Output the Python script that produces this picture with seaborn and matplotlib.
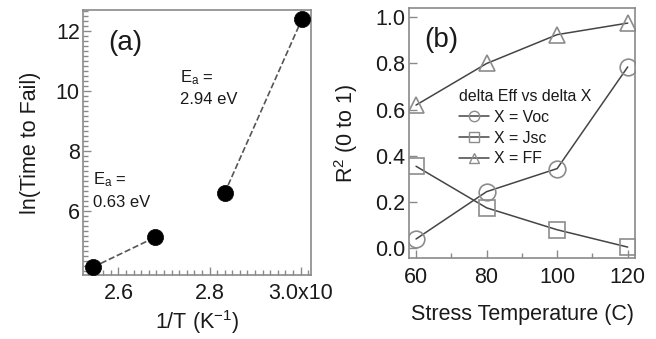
import matplotlib
matplotlib.use("Agg")
import matplotlib.pyplot as plt
import seaborn as sns
import pandas as pd
from matplotlib.lines import Line2D
from matplotlib.ticker import AutoMinorLocator, FixedLocator, FixedFormatter

# ---------------- data ----------------
inv_T = [2.544, 2.681, 2.833, 3.003]          # 1/T (x1e-3 K^-1)
ln_ttf = [4.12, 5.12, 6.59, 12.4]             # ln(Time to Fail)
xticks_a = [2.6, 2.8, 3.0]
xticklabels_a = ["2.6", "2.8", "3.0x10"]
yticks_a = [6, 8, 10, 12]
ea_low = "0.63 eV"
ea_high = "2.94 eV"

temps = [60, 80, 100, 120]
r2_voc = [0.04, 0.245, 0.345, 0.785]
r2_jsc = [0.355, 0.175, 0.08, 0.005]
r2_ff = [0.62, 0.80, 0.925, 0.975]
series_labels = ["X = Voc", "X = Jsc", "X = FF"]
legend_title = "delta Eff vs delta X"
xticks_b = [60, 80, 100, 120]
yticks_b = [0.0, 0.2, 0.4, 0.6, 0.8, 1.0]

# ---------------- style ----------------
sns.set_theme(style="white")
plt.rcParams["font.family"] = ["Liberation Sans", "DejaVu Sans"]
plt.rcParams["mathtext.fontset"] = "custom"
plt.rcParams["mathtext.rm"] = "Liberation Sans"
plt.rcParams["mathtext.it"] = "Liberation Sans:italic"
plt.rcParams["mathtext.default"] = "regular"

TXT = "#1a1a1a"
SPINE = "#8a8a8a"
LINE = "#454545"
MEDGE = "#8c8c8c"
TICKFS = 15.5
LABFS = 15.5

fig = plt.figure(figsize=(6.56, 3.39), dpi=100)
ax_a = fig.add_axes([0.127, 0.1888, 0.3466, 0.7817])
ax_b = fig.add_axes([0.624, 0.2398, 0.344, 0.7357])

def style_axes(ax):
    for s in ax.spines.values():
        s.set_color(SPINE)
        s.set_linewidth(1.2)
    ax.tick_params(which="both", direction="in", colors=SPINE, labelcolor=TXT,
                   labelsize=TICKFS, top=False, right=False, left=True, bottom=True,
                   width=1.0)
    ax.tick_params(which="major", length=6)
    ax.tick_params(which="minor", length=3.5)

# ---------------- panel (a) ----------------
df_a = pd.DataFrame({"invT": inv_T, "lnt": ln_ttf})
sns.lineplot(x=df_a["invT"][:2], y=df_a["lnt"][:2], ax=ax_a, color="#555555",
             linestyle="--", linewidth=1.2)
sns.lineplot(x=df_a["invT"][2:], y=df_a["lnt"][2:], ax=ax_a, color="#555555",
             linestyle="--", linewidth=1.2)
sns.scatterplot(data=df_a, x="invT", y="lnt", ax=ax_a, s=135, color="black",
                edgecolor="black", linewidth=0.5, zorder=5)
ax_a.set_xlim(2.523, 3.022)
ax_a.set_ylim(3.86, 12.7)
ax_a.xaxis.set_major_locator(FixedLocator(xticks_a))
ax_a.xaxis.set_major_formatter(FixedFormatter(xticklabels_a))
ax_a.xaxis.set_minor_locator(AutoMinorLocator(12))
ax_a.set_yticks(yticks_a)
ax_a.yaxis.set_minor_locator(AutoMinorLocator(12))
style_axes(ax_a)
ax_a.tick_params(axis="x", which="major", pad=5.5)
ax_a.tick_params(axis="y", which="major", pad=2.5)
ax_a.set_xlabel("1/T (K$^{-1}$)", fontsize=LABFS, color=TXT, labelpad=3)
ax_a.set_ylabel("ln(Time to Fail)", fontsize=LABFS, color=TXT, labelpad=11)
ax_a.text(0.108, 0.925, "(a)", transform=ax_a.transAxes, fontsize=20, color=TXT,
          va="top", ha="left")
ax_a.text(2.735, 10.77, "E$_a$ =", fontsize=12, color=TXT, va="top", ha="left")
ax_a.text(2.735, 9.95, ea_high, fontsize=12, color=TXT, va="top", ha="left")
ax_a.text(2.544, 7.36, "E$_a$ =", fontsize=12, color=TXT, va="top", ha="left")
ax_a.text(2.544, 6.54, ea_low, fontsize=12, color=TXT, va="top", ha="left")

# ---------------- panel (b) ----------------
markers = ["o", "s", "^"]
msizes = [12, 11, 12]
handles = []
for vals, mk, ms, lab in zip([r2_voc, r2_jsc, r2_ff], markers, msizes, series_labels):
    sns.lineplot(x=temps, y=vals, ax=ax_b, color=LINE, linewidth=1.1,
                 marker=mk, markersize=ms, markerfacecolor="none",
                 markeredgecolor=MEDGE, markeredgewidth=1.2)
    handles.append(Line2D([], [], color=LINE, linewidth=1.1, marker=mk,
                          markersize=7.5, markerfacecolor="none",
                          markeredgecolor=MEDGE, markeredgewidth=1.0))
ax_b.set_xlim(58.1, 122.07)
ax_b.set_ylim(-0.041, 1.039)
ax_b.set_xticks(xticks_b)
ax_b.xaxis.set_minor_locator(AutoMinorLocator(2))
ax_b.set_yticks(yticks_b)
ax_b.set_yticklabels([f"{v:.1f}" for v in yticks_b])
style_axes(ax_b)
ax_b.tick_params(axis="x", which="major", pad=7)
ax_b.tick_params(axis="y", which="major", pad=3)
ax_b.set_xlabel("Stress Temperature (C)", fontsize=LABFS, color=TXT, labelpad=11)
ax_b.set_ylabel("R$^2$ (0 to 1)", fontsize=LABFS, color=TXT, labelpad=11)
ax_b.text(0.065, 0.925, "(b)", transform=ax_b.transAxes, fontsize=20, color=TXT,
          va="top", ha="left")
leg = ax_b.legend(handles, series_labels, title=legend_title, loc="upper left",
                  bbox_to_anchor=(0.218, 0.676), frameon=False, fontsize=11.4,
                  title_fontsize=11.4, alignment="left", handlelength=1.9,
                  handletextpad=0.35, labelspacing=0.36, borderpad=0,
                  borderaxespad=0)
for t in leg.get_texts():
    t.set_color(TXT)
leg.get_title().set_color(TXT)

fig.savefig("out.png", dpi=100)
